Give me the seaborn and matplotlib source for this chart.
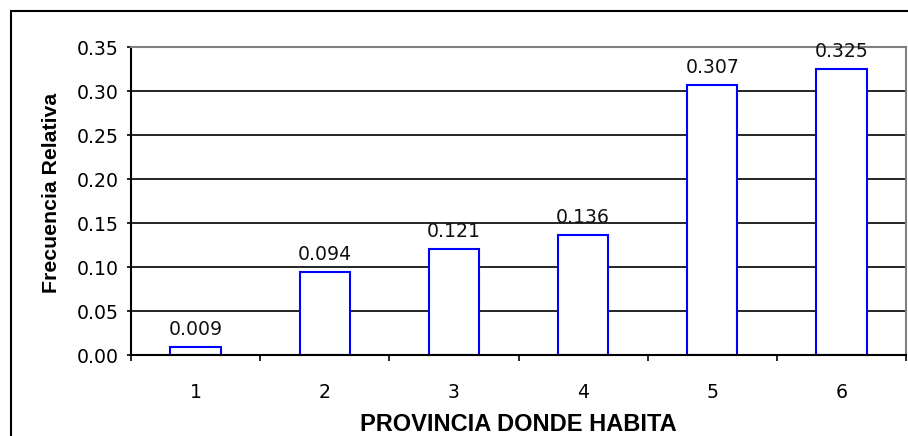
import matplotlib
matplotlib.use("Agg")
import matplotlib.pyplot as plt
import seaborn as sns
import pandas as pd
from matplotlib.patches import Rectangle
from matplotlib.ticker import FixedLocator

# data
provincias = ["1", "2", "3", "4", "5", "6"]
frecuencias = [0.009, 0.094, 0.121, 0.136, 0.307, 0.325]
etiquetas = ["0.009", "0.094", "0.121", "0.136", "0.307", "0.325"]

df = pd.DataFrame({"provincia": provincias, "frecuencia": frecuencias})

sns.set_style("white")
plt.rcParams["font.family"] = ["DejaVu Sans"]
plt.rcParams["text.color"] = "black"
plt.rcParams["xtick.color"] = "black"
plt.rcParams["ytick.color"] = "black"
plt.rcParams["axes.labelcolor"] = "black"

NUM_SIZE = 13.6

fig = plt.figure(figsize=(9.08, 4.36), dpi=100)
ax = fig.add_axes([131 / 908, 81 / 436, 775 / 908, 308 / 436])

sns.barplot(data=df, x="provincia", y="frecuencia", ax=ax, color="white",
            saturation=1, edgecolor="#0000ff", linewidth=1.5, width=0.39)

ax.set_ylim(0, 0.35)
ax.set_xlim(-0.5, len(provincias) - 0.5)
ax.set_yticks([0, 0.05, 0.10, 0.15, 0.20, 0.25, 0.30, 0.35])
ax.set_yticklabels([f"{v:.2f}" for v in ax.get_yticks()], fontsize=NUM_SIZE)
ax.yaxis.grid(True, color="black", linewidth=1.2)
ax.set_axisbelow(True)

ax.tick_params(axis="x", which="major", length=0, pad=20, labelsize=NUM_SIZE)
ax.xaxis.set_minor_locator(FixedLocator([i - 0.5 for i in range(len(provincias) + 1)]))
ax.tick_params(axis="x", which="minor", length=4, width=1.2, direction="out", bottom=True)
ax.tick_params(axis="y", length=3, width=1.2, direction="out", left=True, pad=6)

for s in ["left", "bottom"]:
    ax.spines[s].set_color("black")
    ax.spines[s].set_linewidth(1.5)
for s in ["top", "right"]:
    ax.spines[s].set_visible(True)
    ax.spines[s].set_color("#808080")
    ax.spines[s].set_linewidth(1.5)

for i, (v, t) in enumerate(zip(frecuencias, etiquetas)):
    ax.annotate(t, (i, v), xytext=(0, 8.6), textcoords="offset points",
                ha="center", va="baseline", fontsize=NUM_SIZE, color="#111111",
                annotation_clip=False)

ax.set_xlabel("PROVINCIA DONDE HABITA", fontsize=17, fontweight="bold",
              family="Liberation Sans", labelpad=8)
ax.set_ylabel("Frecuencia Relativa", fontsize=15.3, fontweight="bold",
              family="Liberation Sans")
ax.yaxis.set_label_coords(-0.090, 0.527)

# outer chart frame (runs past the right and bottom edges)
fig.patches.append(Rectangle((11 / 908, -0.05), 1.0, 0.05 + 425 / 436,
                             transform=fig.transFigure, fill=False,
                             edgecolor="black", linewidth=1.5))

fig.savefig("out.png", dpi=100)
